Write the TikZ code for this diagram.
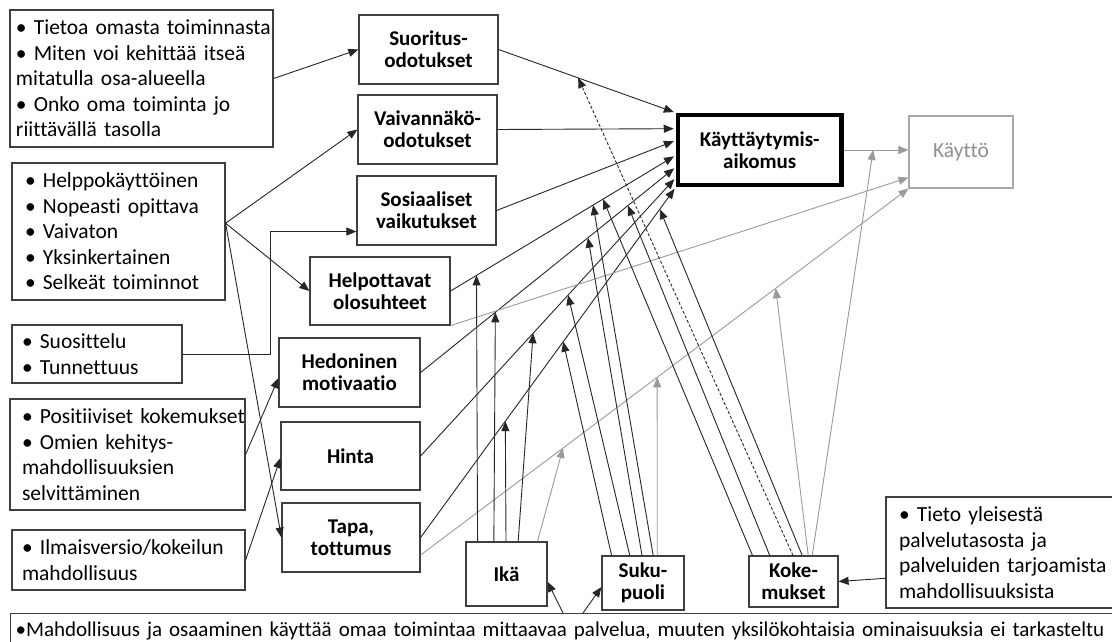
\documentclass[tikz,border=0pt]{standalone}
\usepackage{fontspec}
\setmainfont{Carlito}[Ligatures=NoCommon,RawFeature={-clig;-dlig}]
\usetikzlibrary{arrows.meta,calc}
\definecolor{frame}{HTML}{3F3F3F}
\definecolor{ink}{HTML}{262626}
\definecolor{soft}{HTML}{9A9A9A}
\definecolor{softframe}{HTML}{A8A8A8}
\definecolor{softtext}{HTML}{8F8F8F}
\begin{document}
\begin{tikzpicture}[x=1pt,y=-1pt,
  listbox/.style={draw=frame,line width=1.2pt,fill=white,align=left,inner ysep=0pt,
    font=\fontsize{21.5}{25.5}\selectfont},
  factor/.style={draw=frame,line width=1.2pt,fill=white,align=center,inner sep=0pt,
    font=\fontsize{21}{22}\selectfont\bfseries},
  tip/.style={-{Triangle[length=10pt,width=8pt]}},
  link/.style={draw=ink,line width=0.9pt,tip},
  softlink/.style={draw=soft,line width=0.9pt,tip},
  dashlink/.style={link,dash pattern=on 3pt off 2pt},
]
\fill[white] (0,0) rectangle (1112,642);
\useasboundingbox (0,0) rectangle (1112,642);

% ---- background factors (left column)
\node[listbox,inner xsep=6pt,text width=251pt,minimum width=263pt,minimum height=137pt] (a) at (141.5,78.5)
  {\mbox{• Tietoa omasta toiminnasta}\\\mbox{• Miten voi kehittää itseä}\\\mbox{mitatulla osa-alueella}\\\mbox{• Onko oma toiminta jo}\\\mbox{riittävällä tasolla}};
\node[listbox,inner xsep=13pt,text width=187pt,minimum width=213pt,minimum height=137pt] (b) at (118.5,231.5)
  {\mbox{• Helppokäyttöinen}\\\mbox{• Nopeasti opittava}\\\mbox{• Vaivaton}\\\mbox{• Yksinkertainen}\\\mbox{• Selkeät toiminnot}};
\node[listbox,inner xsep=10pt,text width=150pt,minimum width=170pt,minimum height=58pt] (c) at (97,354)
  {\mbox{• Suosittelu}\\\mbox{• Tunnettuus}};
\node[listbox,inner xsep=12pt,text width=211pt,minimum width=235pt,minimum height=111pt] (d) at (127.5,454.5)
  {\mbox{• Positiiviset kokemukset}\\\mbox{• Omien kehitys-}\\\mbox{mahdollisuuksien}\\\mbox{selvittäminen}};
\node[listbox,inner xsep=10pt,text width=213pt,minimum width=233pt,minimum height=60pt] (e) at (128.5,560)
  {\mbox{• Ilmaisversio/kokeilun}\\\mbox{mahdollisuus}};
\node[listbox,inner xsep=13pt,text width=204pt,minimum width=230pt,minimum height=111pt] (tieto) at (1001,552.5)
  {\mbox{• Tieto yleisestä}\\\mbox{palvelutasosta ja}\\\mbox{palveluiden tarjoamista}\\\mbox{mahdollisuuksista}};
\node[listbox,font=\fontsize{21}{25.5}\selectfont,anchor=north west,inner xsep=5pt,inner ysep=4pt,
  text height=19pt,text depth=20pt,text width=1100pt,minimum width=1110pt] (f) at (10,613)
  {\mbox{•Mahdollisuus ja osaaminen käyttää omaa toimintaa mittaavaa palvelua, muuten yksilökohtaisia ominaisuuksia ei tarkasteltu}};

% ---- model constructs
\node[factor,minimum width=139pt,minimum height=69pt] (suor) at (428.5,49.5) {Suoritus-\\odotukset};
\node[factor,minimum width=139pt,minimum height=69pt] (vaiv) at (427.5,129.5) {Vaivannäkö-\\odotukset};
\node[factor,minimum width=139pt,minimum height=69pt] (sos) at (426.5,210.5) {Sosiaaliset\\vaikutukset};
\node[factor,minimum width=140pt,minimum height=68pt] (help) at (380,291) {Helpottavat\\olosuhteet};
\node[factor,minimum width=141pt,minimum height=69pt] (hed) at (349.5,372.5) {Hedoninen\\motivaatio};
\node[factor,minimum width=139pt,minimum height=68pt] (hinta) at (350.5,456) {Hinta};
\node[factor,minimum width=138pt,minimum height=69pt] (tapa) at (351,537.5) {Tapa,\\tottumus};
\node[factor,draw=black,line width=4.5pt,minimum width=163.5pt,minimum height=70pt] (k) at (759.75,150) {Käyttäytymis-\\aikomus};
\node[factor,draw=softframe,text=softtext,font=\fontsize{21.5}{22}\selectfont,minimum width=104pt,minimum height=72pt] (u) at (961,152) {Käyttö};
\node[factor,minimum width=81pt,minimum height=64pt] (ika) at (506.5,574) {Ikä};
\node[factor,minimum width=82pt,minimum height=54pt] (suku) at (643,583) {Suku-\\puoli};
\node[factor,minimum width=89pt,minimum height=51pt] (koke) at (793.5,581.5) {Koke-\\mukset};

% ---- helper points on the borders
\coordinate (bout) at ($(b.north east)!0.44!(b.south east)$);
\coordinate (kV) at ($(k.north west)!0.214!(k.south west)$);
\coordinate (kS) at ($(k.north west)!0.371!(k.south west)$);
\coordinate (kF) at ($(k.north west)!0.571!(k.south west)$);
\coordinate (kH) at ($(k.north west)!0.729!(k.south west)$);
\coordinate (kP) at ($(k.north west)!0.871!(k.south west)$);
\coordinate (tuse) at ($(tapa.north east)!0.75!(tapa.south east)$);
\coordinate (uF) at ($(u.north west)!0.85!(u.south west)$);
\coordinate (uK) at (k.east -| u.west);

% ---- background factors to constructs
\draw[link] (a.east) -- (suor.west);
\draw[link] (bout) -- (vaiv.west);
\draw[link] (bout) -- (help.west);
\draw[link] (bout) -- (tapa.west);
\draw[link] (c.east) -- ++(88,0) |- ($(sos.north west)!0.8!(sos.south west)$);
\draw[link] (d.east) -- ($(hed.north west)!0.58!(hed.south west)$);
\draw[link] (e.east) -- ($(hinta.north west)!0.53!(hinta.south west)$);

% ---- constructs to behavioural intention
\draw[link,shorten >=2pt] (suor.east) -- (k.north west);
\draw[link,shorten >=2pt] (vaiv.east) -- (kV);
\draw[link,shorten >=2pt] (sos.east) -- (kS);
\draw[link,shorten >=2pt] (help.east) -- (kF);
\draw[link,shorten >=2pt] (hed.east) -- (kH);
\draw[link,shorten >=2pt] (hinta.east) -- (kP);
\draw[link,shorten >=2pt] (tapa.east) -- (k.south west);

% ---- paths to use
\draw[softlink] (k.east) -- (uK);
\draw[softlink] (help.south east) -- (uF);
\draw[softlink] (tuse) -- (u.south west);

% ---- age as moderator
\draw[link] ($(ika.north west)!0.148!(ika.north east)$) -- ($(help.east)!0.115!(kF)$);
\draw[link] ($(ika.north west)!0.346!(ika.north east)$) -- ($(hed.east)!0.293!(kH)$);
\draw[link] ($(ika.north west)!0.494!(ika.north east)$) -- ($(tapa.east)!0.332!(k.south west)$);
\draw[link] ($(ika.north west)!0.642!(ika.north east)$) -- ($(hinta.east)!0.441!(kP)$);
\draw[softlink] ($(ika.north west)!0.877!(ika.north east)$) -- ($(tuse)!0.292!(u.south west)$);

% ---- gender as moderator
\draw[link] ($(suku.north west)!0.122!(suku.north east)$) -- ($(tapa.east)!0.559!(k.south west)$);
\draw[link] ($(suku.north west)!0.341!(suku.north east)$) -- ($(hinta.east)!0.578!(kP)$);
\draw[link] ($(suku.north west)!0.488!(suku.north east)$) -- ($(hed.east)!0.656!(kH)$);
\draw[link] ($(suku.north west)!0.622!(suku.north east)$) -- ($(help.east)!0.633!(kF)$);
\draw[softlink] ($(suku.north west)!0.671!(suku.north east)$) -- ($(tuse)!0.485!(u.south west)$);

% ---- experience as moderator
\draw[link] ($(koke.north west)!0.045!(koke.north east)$) -- ($(help.east)!0.677!(kF)$);
\draw[link] ($(koke.north west)!0.236!(koke.north east)$) -- ($(hed.east)!0.8125!(kH)$);
\draw[dashlink] ($(koke.north west)!0.494!(koke.north east)$) -- ($(suor.east)!0.449!(k.north west)$);
\draw[link] ($(koke.north west)!0.596!(koke.north east)$) -- ($(tapa.east)!0.9375!(k.south west)$);
\draw[softlink] ($(koke.north west)!0.663!(koke.north east)$) -- ($(tuse)!0.728!(u.south west)$);
\draw[softlink] ($(koke.north west)!0.708!(koke.north east)$) -- ($(k.east)!0.4545!(uK)$);

% ---- individual background to moderators
\draw[link] ($(f.north west)+(553,0)$) -- ($(ika.north east)!0.62!(ika.south east)$);
\draw[link] ($(f.north west)+(573,0)$) -- ($(suku.north west)!0.574!(suku.south west)$);
\draw[link] ($(tieto.north west)!0.73!(tieto.south west)$) -- (koke.east);
\end{tikzpicture}
\end{document}
